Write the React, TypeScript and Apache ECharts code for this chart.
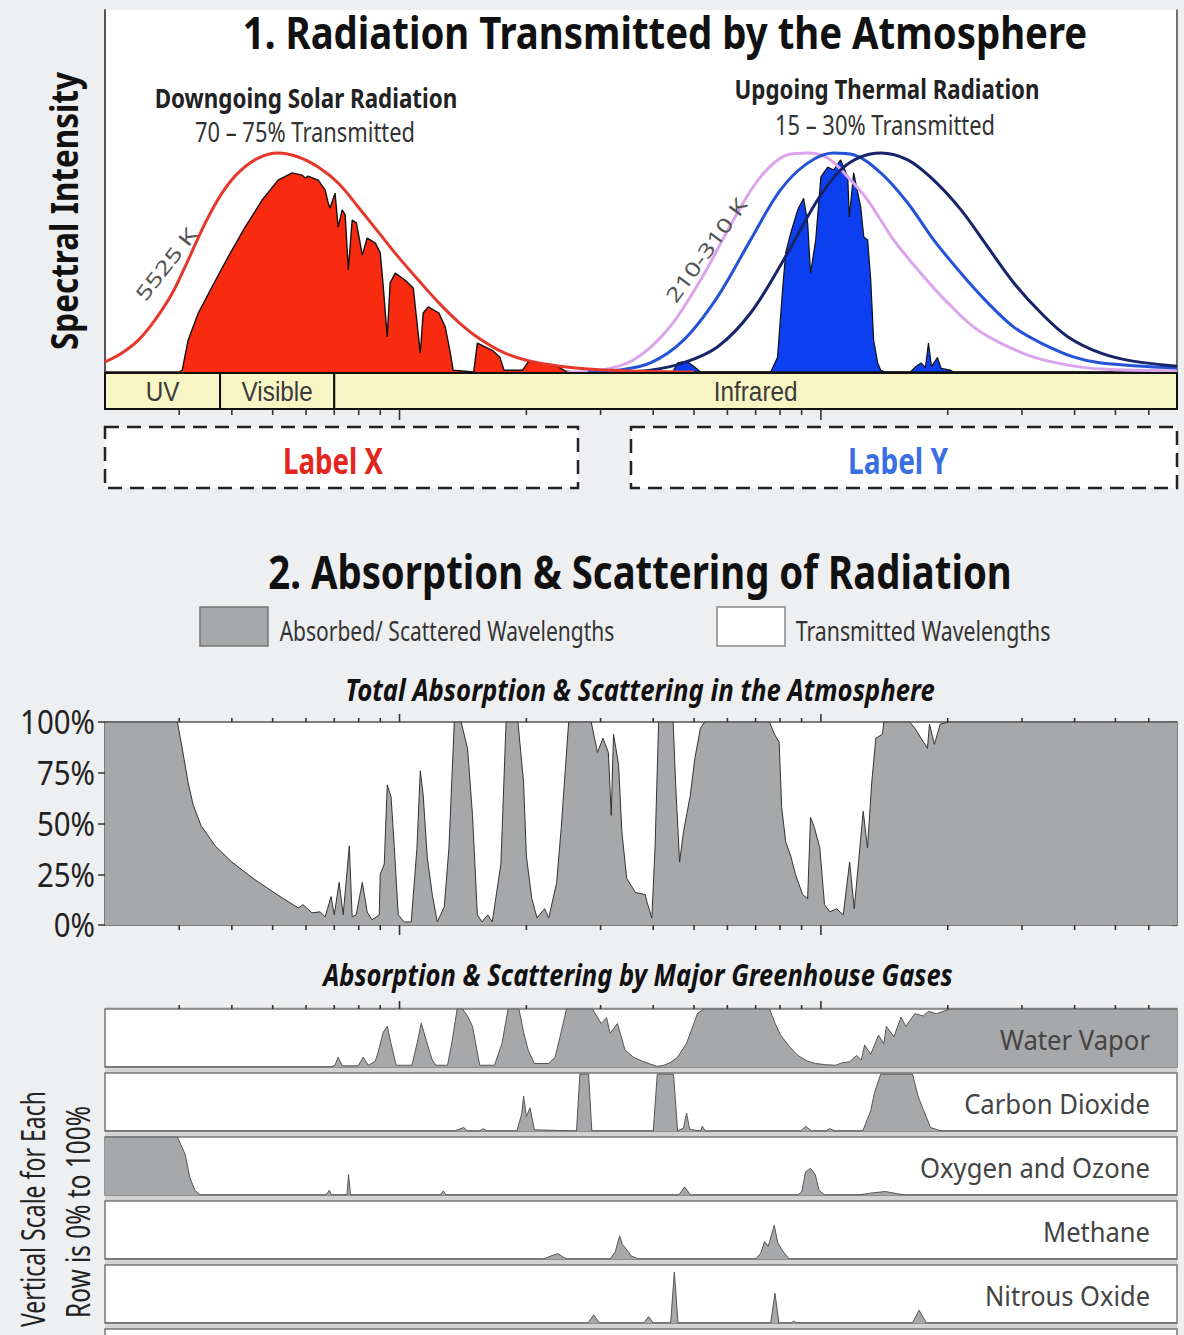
import React, { useEffect, useRef } from 'react';
import * as echarts from 'echarts';

const FONT = '"Noto Sans", "DejaVu Sans", sans-serif';
const BAND_FONT = '"Liberation Sans", Arial, sans-serif';

// wavelength axis (micrometres, log scale)
const X_MIN = 0.2;
const X_MAX = 70;
const xMinorTicks = [0.3, 0.4, 0.5, 0.6, 0.7, 0.8, 0.9, 2, 3, 4, 5, 6, 7, 8, 9, 20, 30, 40, 50, 60];
const xMajorTicks = [1, 10];

const bandNames = ['UV', 'Visible', 'Infrared'];
const bandStart = [0.2, 0.375, 0.7];
const bandEnd = [0.375, 0.7, 70];

const yTickValues = [0, 25, 50, 75, 100];
const yTickLabels = ['0%', '25%', '50%', '75%', '100%'];

// Panel 1 — spectral intensity (arbitrary units 0–100)
const solarBlackbody = [
  [0.2, 2.8], [0.219, 5.2], [0.24, 8.8], [0.263, 14.4], [0.289, 21.8], [0.315, 30.9], [0.346, 41.2],
  [0.379, 49.4], [0.414, 55.0], [0.462, 59.1], [0.515, 60.5], [0.575, 59.4], [0.641, 56.6], [0.715, 52.2],
  [0.798, 45.6], [0.89, 38.7], [0.993, 31.8], [1.108, 25.4], [1.24, 19.1], [1.38, 13.8], [1.54, 9.4],
  [1.78, 5.2], [2.14, 2.5], [2.81, 0.8], [3.5, 0.3], [5, 0],
];
const solarTransmitted = [
  [0.2, 0], [0.3, 0], [0.305, 0.5], [0.315, 8.8], [0.333, 16.3], [0.359, 23.5], [0.392, 31.8], [0.43, 40],
  [0.472, 47.5], [0.515, 53], [0.556, 55], [0.587, 54.4], [0.597, 53.6], [0.606, 54.1], [0.641, 53],
  [0.666, 50.3], [0.677, 46.7], [0.684, 45.3], [0.703, 49.4], [0.715, 40], [0.731, 44.8], [0.743, 43.4],
  [0.756, 28.2], [0.772, 42], [0.79, 41.2], [0.816, 32.3], [0.838, 37], [0.876, 35.6], [0.9, 32.9],
  [0.915, 23.5], [0.935, 9.7], [0.95, 24.6], [0.977, 27.3], [1.03, 25.4], [1.078, 23.2], [1.12, 5.2],
  [1.138, 16.3], [1.17, 18], [1.24, 16.3], [1.284, 12.4], [1.32, 5.2], [1.34, 0.5], [1.5, 0], [1.53, 8],
  [1.6, 6.9], [1.66, 6], [1.73, 4.1], [1.77, 0.5], [1.96, 0.5], [2.02, 2.8], [2.14, 2.5], [2.38, 1.4],
  [2.47, 0.3], [2.6, 0], [70, 0],
];
const thermal310 = [
  [2.5, 0], [3.0, 0.5], [3.59, 3.3], [4.32, 11.6], [5.18, 25.4], [6.2, 42], [7.19, 53.9], [8.34, 60],
  [9.3, 60.5], [10.38, 59.1], [11.58, 53.9], [12.91, 47.5], [14.88, 36.5], [17.26, 27.3], [20.0, 19.1],
  [23.06, 12.4], [26.7, 8], [32.0, 4.1], [38.6, 1.9], [46.2, 0.8], [70, 0.3],
];
const thermal260 = [
  [2.8, 0], [3.29, 0.5], [3.94, 2.5], [4.72, 8.8], [5.68, 20.7], [6.81, 36.5], [8.02, 50.3], [9.3, 57.7],
  [10.72, 60.5], [11.96, 60], [13.87, 55], [16.07, 46.7], [18.52, 36.5], [21.5, 27.3], [24.9, 19.1],
  [28.7, 12.4], [33.3, 8], [39.9, 4.1], [46.2, 2.5], [70, 1.1],
];
const thermal210 = [
  [3.3, 0], [3.94, 0.5], [4.72, 2.5], [5.68, 6.9], [6.81, 16.3], [8.15, 30.9], [9.82, 47.5], [11.14, 55.8],
  [12.43, 59.4], [13.87, 60.5], [16.07, 58.6], [18.52, 53], [21.5, 44.8], [24.9, 34.5], [28.7, 24.6],
  [33.3, 16.3], [38.6, 9.7], [46.2, 5.2], [55, 3], [70, 1.6],
];
const thermalTransmitted = [
  [3.0, 0], [4.45, 0], [4.57, 2.5], [4.8, 3], [5.0, 1.5], [5.18, 0], [7.6, 0], [7.89, 4.1], [8.11, 22.7],
  [8.25, 32.9], [8.48, 38.4], [8.81, 44.8], [9.1, 48], [9.3, 41.2], [9.45, 27.3], [9.72, 36.5], [10.0, 53.9],
  [10.38, 56.6], [10.72, 55.8], [11.14, 58.6], [11.58, 53.9], [11.68, 42.8], [11.96, 55], [12.43, 45.6],
  [12.64, 37.3], [12.91, 36.5], [13.13, 25.4], [13.34, 8.8], [13.64, 2.5], [13.87, 0.5], [14.2, 0],
  [16.3, 0], [16.8, 1.5], [17.3, 2.5], [17.7, 1.2], [18.0, 8], [18.3, 1.5], [18.9, 4], [19.3, 1],
  [20.3, 0.5], [20.6, 0], [70, 0],
];

// Panel 2 — total absorption & scattering (%)
const totalAbsorption = [
  [0.2, 100], [0.297, 100], [0.305, 87], [0.315, 70], [0.324, 59], [0.338, 49], [0.365, 39], [0.4, 31],
  [0.449, 23], [0.512, 15], [0.575, 8.4], [0.59, 10], [0.62, 6], [0.648, 6.5], [0.666, 4], [0.688, 14],
  [0.7, 5], [0.719, 21], [0.735, 5], [0.76, 39], [0.772, 4], [0.789, 5], [0.816, 21], [0.838, 6.4],
  [0.861, 2.5], [0.895, 5], [0.9, 25], [0.92, 30], [0.935, 69], [0.955, 63], [0.972, 38], [0.993, 5],
  [1.026, 1.5], [1.066, 1.5], [1.1, 38], [1.12, 76], [1.138, 64], [1.164, 33], [1.196, 15], [1.229, 1.5],
  [1.277, 9], [1.31, 38], [1.349, 100], [1.4, 100], [1.45, 87], [1.46, 79], [1.49, 54], [1.53, 5],
  [1.57, 1.5], [1.62, 5], [1.66, 1.5], [1.74, 30], [1.79, 100], [1.91, 100], [1.97, 70], [2.0, 34],
  [2.06, 13], [2.12, 3.5], [2.21, 8], [2.26, 3.5], [2.36, 21], [2.42, 48], [2.52, 100], [2.85, 100],
  [2.95, 85], [3.04, 92], [3.13, 85], [3.18, 54], [3.22, 94], [3.31, 79], [3.37, 46], [3.46, 23],
  [3.63, 16], [3.83, 15], [3.87, 11], [3.97, 3.5], [4.04, 38], [4.12, 100], [4.46, 100], [4.52, 70],
  [4.62, 31], [4.72, 46], [4.9, 64], [5.02, 82], [5.18, 97], [5.3, 100], [7.55, 100], [7.76, 94],
  [7.96, 90], [8.07, 58], [8.25, 41], [8.48, 34], [8.7, 25], [9.05, 15], [9.3, 13], [9.45, 53],
  [9.65, 48], [9.94, 38], [10.2, 10], [10.5, 6.5], [10.9, 8], [11.3, 5], [11.7, 31], [12.0, 8],
  [12.6, 56], [12.9, 38], [13.2, 70], [13.5, 92], [14.0, 94], [14.1, 100], [16.25, 100], [16.7, 97],
  [17.9, 87], [18.1, 99], [18.6, 89], [19.2, 99], [20.2, 100], [70, 100],
];

// Panel 2 — individual gases (%)
const waterVapor = [
  [0.2, 0], [0.685, 0], [0.703, 3], [0.715, 17], [0.731, 2], [0.798, 2], [0.82, 17], [0.843, 3], [0.876, 10],
  [0.89, 26], [0.915, 60], [0.935, 70], [0.955, 40], [0.982, 3], [1.07, 3], [1.108, 50], [1.126, 76],
  [1.158, 45], [1.196, 12], [1.22, 3], [1.3, 3], [1.33, 40], [1.37, 100], [1.41, 100], [1.45, 88],
  [1.49, 70], [1.55, 3], [1.68, 3], [1.75, 40], [1.81, 100], [1.92, 100], [1.97, 60], [2.02, 29],
  [2.09, 6], [2.26, 6], [2.34, 17], [2.41, 55], [2.49, 100], [2.87, 100], [3.01, 75], [3.1, 85],
  [3.16, 58], [3.29, 75], [3.43, 29], [3.59, 17], [3.77, 10], [3.94, 5], [4.09, 1], [4.24, 3], [4.4, 8],
  [4.57, 17], [4.8, 41], [5.1, 93], [5.29, 100], [7.55, 100], [7.79, 75], [8.02, 55], [8.43, 35],
  [8.81, 20], [9.3, 10], [9.72, 6], [10.26, 4], [10.84, 3], [11.2, 7], [11.7, 9], [12.16, 20],
  [12.47, 12], [12.7, 38], [13.13, 22], [13.7, 55], [14.1, 40], [14.3, 70], [14.9, 52], [15.5, 86],
  [15.9, 70], [16.7, 92], [17.5, 88], [18.0, 96], [18.8, 92], [20.3, 100], [70, 100],
];
const carbonDioxide = [
  [0.2, 0], [1.35, 0], [1.42, 6], [1.45, 0], [1.55, 0], [1.58, 4], [1.61, 0], [1.9, 0], [1.95, 30],
  [1.97, 60], [2.0, 25], [2.04, 40], [2.09, 2], [2.63, 0], [2.68, 98], [2.81, 98], [2.86, 0], [4.0, 0],
  [4.09, 98], [4.47, 98], [4.57, 0], [4.72, 5], [4.8, 31], [4.88, 3], [5.18, 0], [5.23, 8], [5.32, 0],
  [8.95, 0], [9.2, 8], [9.5, 0], [10.26, 0], [10.5, 4], [10.8, 0], [12.57, 0], [13.13, 35], [13.4, 66],
  [13.87, 98], [16.5, 98], [17.0, 60], [17.5, 37], [18.2, 6], [19.3, 0], [70, 0],
];
const oxygenOzone = [
  [0.2, 100], [0.297, 100], [0.31, 70], [0.318, 30], [0.327, 8], [0.336, 0], [0.67, 0], [0.681, 8],
  [0.69, 0], [0.75, 0], [0.757, 35], [0.765, 0], [1.25, 0], [1.27, 7], [1.29, 0], [4.6, 0], [4.75, 14],
  [4.9, 0], [8.8, 0], [9.0, 5], [9.2, 40], [9.45, 46], [9.7, 35], [9.9, 8], [10.2, 0], [12.3, 0],
  [13.05, 3], [14.2, 6], [15.8, 0], [70, 0],
];
const methane = [
  [0.2, 0], [2.2, 0], [2.3, 6], [2.38, 9], [2.45, 3], [2.5, 0], [3.16, 0], [3.25, 12], [3.33, 40],
  [3.38, 25], [3.43, 20], [3.55, 5], [3.7, 0], [7.0, 0], [7.2, 10], [7.35, 30], [7.5, 22], [7.75, 58],
  [7.9, 28], [8.1, 15], [8.4, 0], [70, 0],
];
const nitrousOxide = [
  [0.2, 0], [2.8, 0], [2.89, 14], [2.98, 0], [3.8, 0], [3.9, 11], [4.0, 0], [4.4, 0], [4.49, 88],
  [4.58, 0], [7.6, 0], [7.78, 51], [7.95, 0], [8.5, 0], [8.6, 3], [8.8, 0], [16.5, 0], [17.1, 22],
  [17.8, 0], [70, 0],
];
const gasNames = ['Water Vapor', 'Carbon Dioxide', 'Oxygen and Ozone', 'Methane', 'Nitrous Oxide'];
const gasData = [waterVapor, carbonDioxide, oxygenOzone, methane, nitrousOxide];

let measureCanvas: HTMLCanvasElement | null = null;
function measure(text: string, size: number, weight = 'normal', style = 'normal', family = FONT) {
  if (!measureCanvas) measureCanvas = document.createElement('canvas');
  const ctx = measureCanvas.getContext('2d')!;
  ctx.font = `${style} ${weight} ${size}px ${family}`;
  return ctx.measureText(text).width;
}

function fitText(o: any) {
  const {
    text, x, y, w, size, weight = 'normal', style = 'normal', color = '#111',
    align = 'center', rotation = 0, family = FONT,
  } = o;
  const mw = measure(text, size, weight, style, family);
  return {
    type: 'text', x, y, rotation, scaleX: w / mw, scaleY: 1, z: 20,
    style: {
      text, fontSize: size, fontWeight: weight, fontStyle: style, fontFamily: family, fill: color,
      align, verticalAlign: 'middle', textAlign: align, textVerticalAlign: 'middle',
    },
  };
}

const GRID_LEFT = 105;
const GRID_W = 1072;
const ROW_TOP = 1009;
const ROW_PITCH = 64;
const ROW_H = 58;

export default function App() {
  const ref = useRef<HTMLDivElement>(null);
  useEffect(() => {
    if (!ref.current) return;
    const chart = echarts.init(ref.current, undefined, { renderer: 'svg' });

    const xAx = (gi: number) => ({
      type: 'log', logBase: 10, min: X_MIN, max: X_MAX, gridIndex: gi,
      axisLine: { show: false }, axisTick: { show: false }, axisLabel: { show: false }, splitLine: { show: false },
    });
    const yAx = (gi: number, extra: any = {}) => ({
      type: 'value', min: 0, max: 100, gridIndex: gi,
      axisLine: { show: false }, axisTick: { show: false }, axisLabel: { show: false }, splitLine: { show: false },
      ...extra,
    });

    const tickData = [
      ...xMinorTicks.map((v) => [v, 0]),
      ...xMajorTicks.map((v) => [v, 1]),
    ];
    const tickSeries = (xi: number, yi: number, edge: number, dir: number, minor: number, major: number) => ({
      type: 'custom', xAxisIndex: xi, yAxisIndex: yi, silent: true, clip: false, z: 6,
      data: tickData, encode: { x: 0 },
      renderItem: (params: any, api: any) => {
        const p = api.coord([api.value(0), edge]);
        const len = api.value(1) === 1 ? major : minor;
        return {
          type: 'line',
          shape: { x1: p[0], y1: p[1], x2: p[0], y2: p[1] + dir * len },
          style: { stroke: '#333', lineWidth: 1.6 },
        };
      },
    });

    const area = (data: number[][], xi: number, yi: number, fill: string, stroke: string, lw: number, z = 2) => ({
      type: 'line', data, xAxisIndex: xi, yAxisIndex: yi, showSymbol: false, symbol: 'none', silent: true, z,
      lineStyle: { color: stroke, width: lw }, areaStyle: { color: fill, opacity: 1 },
    });
    const curve = (data: number[][], color: string) => ({
      type: 'line', data, xAxisIndex: 0, yAxisIndex: 0, showSymbol: false, symbol: 'none', silent: true, z: 4,
      smooth: 0.35, lineStyle: { color, width: 3 },
    });

    const yLabScale = 75 / measure('100%', 32);

    const grids: any[] = [
      { left: GRID_LEFT, top: 10, width: GRID_W, height: 362, show: true, backgroundColor: '#ffffff', borderWidth: 0 },
      { left: GRID_LEFT, top: 373, width: GRID_W, height: 36 },
      { left: GRID_LEFT, top: 722, width: GRID_W, height: 203, show: true, backgroundColor: '#ffffff', borderColor: '#555', borderWidth: 1.5 },
    ];
    gasNames.forEach((_, i) => {
      grids.push({
        left: GRID_LEFT, top: ROW_TOP + ROW_PITCH * i, width: GRID_W, height: ROW_H,
        show: true, backgroundColor: '#ffffff', borderColor: '#777', borderWidth: 1.5,
      });
    });

    const xAxes: any[] = [xAx(0), xAx(1), xAx(2), ...gasNames.map((_, i) => xAx(3 + i))];
    const yAxes: any[] = [
      yAx(0, { axisLine: { show: true, lineStyle: { color: '#555', width: 2 } } }),
      yAx(0, { position: 'right', axisLine: { show: true, lineStyle: { color: '#444', width: 1.5 } } }),
      yAx(1, { max: 1 }),
      yAx(2, { interval: 25, axisTick: { show: true, length: 7, inside: false, lineStyle: { color: '#333', width: 1.5 } } }),
      yAx(2, { position: 'right', interval: 25, axisTick: { show: true, length: 5, inside: true, lineStyle: { color: '#555', width: 1.2 } } }),
      ...gasNames.map((_, i) => yAx(3 + i)),
    ];

    const series: any[] = [
      area(solarTransmitted, 0, 0, '#f82a10', '#111', 1.4),
      area(thermalTransmitted, 0, 0, '#0c3ff0', '#111', 1.2),
      curve(thermal310, '#dba4ec'),
      curve(thermal260, '#2553d8'),
      curve(thermal210, '#17246a'),
      curve(solarBlackbody, '#e6372b'),
      {
        type: 'custom', xAxisIndex: 1, yAxisIndex: 2, silent: true, clip: false, z: 5,
        data: bandNames.map((_, i) => [bandStart[i], bandEnd[i]]), encode: { x: [0, 1] },
        renderItem: (params: any, api: any) => {
          const a = api.coord([api.value(0), 1]);
          const b = api.coord([api.value(1), 0]);
          const name = bandNames[params.dataIndex];
          return {
            type: 'group',
            children: [
              { type: 'rect', shape: { x: a[0], y: a[1], width: b[0] - a[0], height: b[1] - a[1] },
                style: { fill: '#f8f6c4', stroke: '#111', lineWidth: 2 } },
              { type: 'text', x: (a[0] + b[0]) / 2, y: (a[1] + b[1]) / 2 + 1, scaleX: 0.9,
                style: { text: name, fontSize: 27, fontFamily: BAND_FONT, fill: '#3a3a3a',
                  align: 'center', verticalAlign: 'middle', textAlign: 'center', textVerticalAlign: 'middle' } },
            ],
          };
        },
      },
      tickSeries(1, 2, 0, 1, 6, 11),
      area(totalAbsorption, 2, 3, '#a7a8aa', '#333', 1),
      tickSeries(2, 3, 100, -1, 4, 8),
      tickSeries(2, 3, 0, 1, 5, 10),
      {
        type: 'custom', xAxisIndex: 2, yAxisIndex: 3, silent: true, clip: false, z: 6,
        data: yTickValues.map((v) => [X_MIN, v]), encode: { x: 0, y: 1 },
        renderItem: (params: any, api: any) => {
          const p = api.coord([api.value(0), api.value(1)]);
          return {
            type: 'text', x: p[0] - 10, y: p[1], scaleX: yLabScale,
            style: { text: yTickLabels[params.dataIndex], fontSize: 32, fontFamily: FONT, fill: '#222',
              align: 'right', verticalAlign: 'middle', textAlign: 'right', textVerticalAlign: 'middle' },
          };
        },
      },
      ...gasData.map((d, i) => area(d, 3 + i, 5 + i, '#a7a8aa', '#555', 1)),
      tickSeries(3, 5, 100, -1, 4, 8),
    ];

    const graphics: any[] = [
      // strip behind the gas rows
      { type: 'rect', z: -5, shape: { x: GRID_LEFT, y: ROW_TOP - 2, width: GRID_W, height: 340 }, style: { fill: '#d2d2d2' } },
      { type: 'rect', z: 1, shape: { x: GRID_LEFT, y: ROW_TOP + ROW_PITCH * 5, width: GRID_W, height: 30 }, style: { fill: '#fff', stroke: '#777', lineWidth: 1.5 } },
      // dashed label boxes
      { type: 'rect', z: 1, shape: { x: 105, y: 427, width: 473, height: 61 }, style: { fill: '#fff', stroke: '#222', lineWidth: 2.5, lineDash: [14, 8] } },
      { type: 'rect', z: 1, shape: { x: 631, y: 427, width: 546, height: 61 }, style: { fill: '#fff', stroke: '#222', lineWidth: 2.5, lineDash: [14, 8] } },
      // legend swatches
      { type: 'rect', z: 1, shape: { x: 200, y: 607, width: 68, height: 39 }, style: { fill: '#a7a8aa', stroke: '#777', lineWidth: 1.5 } },
      { type: 'rect', z: 1, shape: { x: 717, y: 607, width: 68, height: 39 }, style: { fill: '#fff', stroke: '#888', lineWidth: 1.5 } },

      fitText({ text: '1. Radiation Transmitted by the Atmosphere', x: 665, y: 32, w: 845, size: 44, weight: 'bold' }),
      fitText({ text: 'Spectral Intensity', x: 63, y: 211, w: 278, size: 37, weight: 'bold', rotation: Math.PI / 2 }),
      fitText({ text: 'Downgoing Solar Radiation', x: 306, y: 97, w: 303, size: 27, weight: 'bold', color: '#222' }),
      fitText({ text: '70 – 75% Transmitted', x: 305, y: 132, w: 220, size: 27, color: '#333' }),
      fitText({ text: 'Upgoing Thermal Radiation', x: 887, y: 89, w: 305, size: 27, weight: 'bold', color: '#222' }),
      fitText({ text: '15 – 30% Transmitted', x: 885, y: 125, w: 220, size: 27, color: '#333' }),
      fitText({ text: '5525 K', x: 166, y: 264, w: 86, size: 20, color: '#555', rotation: (52 * Math.PI) / 180 }),
      fitText({ text: '210-310 K', x: 706, y: 250, w: 123, size: 20, color: '#555', rotation: (54 * Math.PI) / 180 }),
      fitText({ text: 'Label X', x: 333, y: 460, w: 100, size: 36, weight: 'bold', color: '#e3261c' }),
      fitText({ text: 'Label Y', x: 898, y: 460, w: 100, size: 36, weight: 'bold', color: '#3a6fe2' }),
      fitText({ text: '2. Absorption & Scattering of Radiation', x: 640, y: 571, w: 744, size: 46, weight: 'bold' }),
      fitText({ text: 'Absorbed/ Scattered Wavelengths', x: 447, y: 630, w: 335, size: 27, color: '#333' }),
      fitText({ text: 'Transmitted Wavelengths', x: 923, y: 630, w: 255, size: 27, color: '#333' }),
      fitText({ text: 'Total Absorption & Scattering in the Atmosphere', x: 640, y: 689, w: 590, size: 30, weight: 'bold', style: 'italic' }),
      fitText({ text: 'Absorption & Scattering by Major Greenhouse Gases', x: 638, y: 974, w: 630, size: 30, weight: 'bold', style: 'italic' }),
      fitText({ text: 'Vertical Scale for Each', x: 32, y: 1209, w: 236, size: 32, color: '#222', rotation: Math.PI / 2 }),
      fitText({ text: 'Row is 0% to 100%', x: 78, y: 1212, w: 212, size: 32, color: '#222', rotation: Math.PI / 2 }),
    ];
    const rowLabelW = [150, 186, 230, 107, 165];
    gasNames.forEach((name, i) => {
      graphics.push(fitText({
        text: name, x: 1150, y: ROW_TOP + ROW_PITCH * i + 31, w: rowLabelW[i], size: 27, color: '#444', align: 'right',
      }));
    });

    chart.setOption({
      animation: false,
      backgroundColor: '#eeeff1',
      grid: grids,
      xAxis: xAxes,
      yAxis: yAxes,
      series,
      graphic: { elements: graphics },
    });
    return () => chart.dispose();
  }, []);

  return (
    <div
      ref={ref}
      style={{ position: 'absolute', left: 0, top: 0, width: 1184, height: 1335, background: '#eeeff1' }}
    />
  );
}
